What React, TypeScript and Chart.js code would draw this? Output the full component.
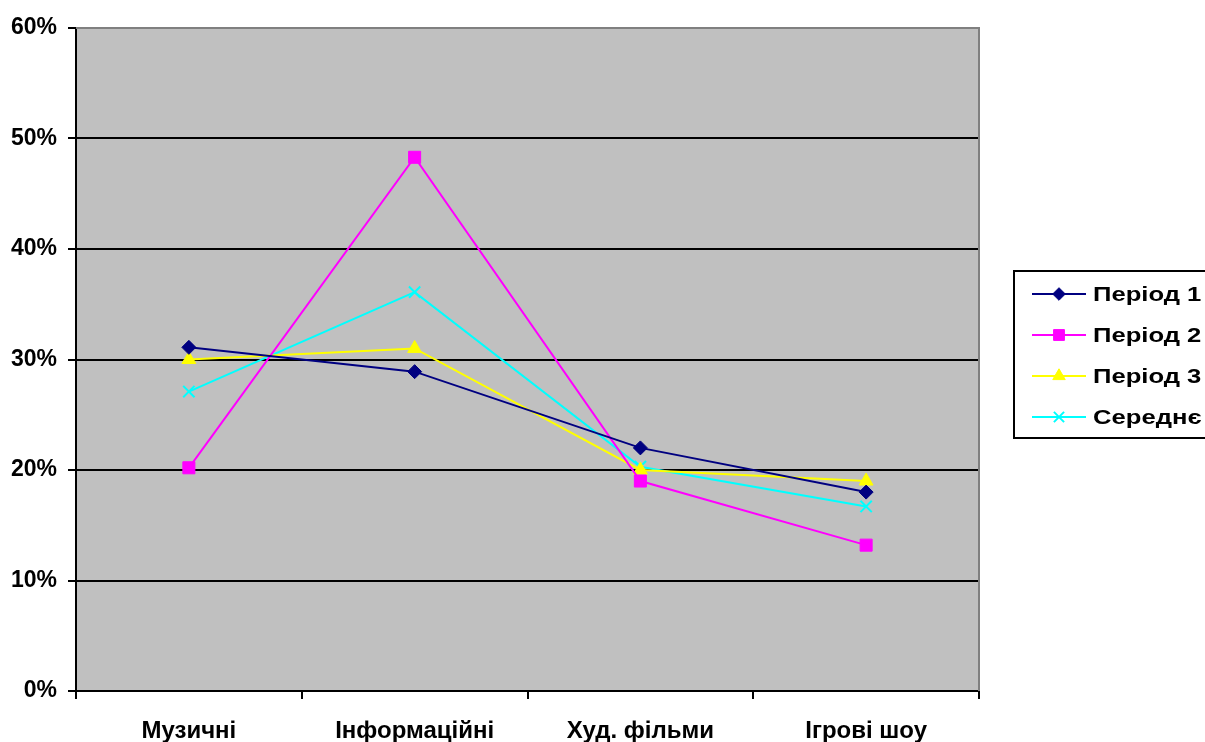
import React, { useEffect, useRef } from 'react';
import { Chart, registerables } from 'chart.js';

Chart.register(...registerables);

// Share of viewers by programme genre, per period
const categories = ['Музичні', 'Інформаційні', 'Худ. фільми', 'Ігрові шоу'];
const period1 = [31.1, 28.9, 22.0, 18.0];
const period2 = [20.2, 48.3, 19.0, 13.2];
const period3 = [30.0, 31.0, 20.0, 19.0];
const average = [27.1, 36.1, 20.3, 16.7];
const seriesNames = ['Період 1', 'Період 2', 'Період 3', 'Середнє'];
const yMin = 0;
const yMax = 60;
const yStep = 10;

const FONT = "'Liberation Sans', Arial, Helvetica, sans-serif";

type SeriesStyle = { color: string; point: string; radius: number; border: number };
const styles: SeriesStyle[] = [
  { color: '#000080', point: 'rectRot', radius: 7, border: 1 },
  { color: '#FF00FF', point: 'rect', radius: 8.5, border: 1 },
  { color: '#FFFF00', point: 'triangle', radius: 8, border: 1 },
  { color: '#00FFFF', point: 'crossRot', radius: 8, border: 2 },
];

function drawMarker(ctx: CanvasRenderingContext2D, s: SeriesStyle, x: number, y: number) {
  const r = s.radius;
  ctx.save();
  ctx.fillStyle = s.color;
  ctx.strokeStyle = s.color;
  ctx.lineWidth = s.border;
  ctx.beginPath();
  if (s.point === 'rectRot') {
    ctx.moveTo(x - r, y);
    ctx.lineTo(x, y - r);
    ctx.lineTo(x + r, y);
    ctx.lineTo(x, y + r);
    ctx.closePath();
    ctx.fill();
    ctx.stroke();
  } else if (s.point === 'rect') {
    const h = Math.SQRT1_2 * r;
    ctx.rect(x - h, y - h, 2 * h, 2 * h);
    ctx.fill();
    ctx.stroke();
  } else if (s.point === 'triangle') {
    ctx.moveTo(x, y - r);
    ctx.lineTo(x + 0.866 * r, y + 0.5 * r);
    ctx.lineTo(x - 0.866 * r, y + 0.5 * r);
    ctx.closePath();
    ctx.fill();
    ctx.stroke();
  } else {
    const o = Math.SQRT1_2 * r;
    ctx.moveTo(x - o, y - o);
    ctx.lineTo(x + o, y + o);
    ctx.moveTo(x + o, y - o);
    ctx.lineTo(x - o, y + o);
    ctx.stroke();
  }
  ctx.restore();
}

// Grey plot background with a grey frame on the top and right sides
const plotFrame = {
  id: 'plotFrame',
  beforeDraw(chart: Chart) {
    const { ctx, chartArea: a } = chart;
    ctx.save();
    ctx.fillStyle = '#C0C0C0';
    ctx.fillRect(a.left, a.top, a.right - a.left, a.bottom - a.top);
    ctx.restore();
  },
  beforeDatasetsDraw(chart: Chart) {
    const { ctx, chartArea: a } = chart;
    ctx.save();
    ctx.strokeStyle = '#808080';
    ctx.lineWidth = 2;
    ctx.beginPath();
    ctx.moveTo(a.left, a.top);
    ctx.lineTo(a.right, a.top);
    ctx.lineTo(a.right, a.bottom);
    ctx.stroke();
    ctx.restore();
  },
};

// Boxed legend to the right of the plot: line sample with marker, then name
const sideLegend = {
  id: 'sideLegend',
  afterDraw(chart: Chart) {
    const { ctx } = chart;
    const boxX = 1014;
    const boxY = 271;
    const rowY0 = 294;
    const rowGap = 41;
    ctx.save();
    ctx.fillStyle = '#FFFFFF';
    ctx.fillRect(boxX, boxY, 260, 167);
    ctx.strokeStyle = '#000000';
    ctx.lineWidth = 2;
    ctx.strokeRect(boxX, boxY, 260, 167);
    chart.data.datasets.forEach((ds, i) => {
      const s = styles[i];
      const y = rowY0 + i * rowGap;
      ctx.strokeStyle = s.color;
      ctx.lineWidth = 2;
      ctx.beginPath();
      ctx.moveTo(1032, y);
      ctx.lineTo(1086, y);
      ctx.stroke();
      drawMarker(ctx, { ...s, radius: s.radius * 0.9 }, 1059, y);
      ctx.save();
      ctx.translate(1093, y + 7);
      ctx.scale(1.22, 1);
      ctx.fillStyle = '#000000';
      ctx.font = `bold 21px ${FONT}`;
      ctx.textAlign = 'left';
      ctx.textBaseline = 'alphabetic';
      ctx.fillText(String(ds.label), 0, 0);
      ctx.restore();
    });
    ctx.restore();
  },
};

export default function App() {
  const canvasRef = useRef<HTMLCanvasElement | null>(null);

  useEffect(() => {
    const canvas = canvasRef.current;
    if (!canvas) return;
    const seriesData = [period1, period2, period3, average];
    const chart = new Chart(canvas, {
      type: 'line',
      data: {
        labels: categories,
        datasets: seriesData.map((values, i) => ({
          label: seriesNames[i],
          data: values,
          borderColor: styles[i].color,
          backgroundColor: styles[i].color,
          borderWidth: 2,
          pointStyle: styles[i].point as any,
          pointRadius: styles[i].radius,
          pointBorderWidth: styles[i].border,
          pointBackgroundColor: styles[i].color,
          pointBorderColor: styles[i].color,
          tension: 0,
          fill: false,
        })),
      },
      options: {
        responsive: false,
        animation: false,
        layout: { padding: { top: 28, right: 226, bottom: 0, left: 0 } },
        plugins: {
          legend: { display: false },
          tooltip: { enabled: false },
        },
        scales: {
          x: {
            type: 'category',
            offset: true,
            border: { display: true, color: '#000000', width: 2 },
            grid: {
              display: true,
              offset: true,
              drawOnChartArea: false,
              drawTicks: true,
              tickLength: 8,
              color: '#000000',
              lineWidth: 2,
            },
            ticks: {
              color: '#000000',
              font: { family: FONT, size: 24, weight: 'bold' },
              padding: 18,
              maxRotation: 0,
              autoSkip: false,
            },
            afterFit(scale: any) {
              scale.height = 51;
            },
          },
          y: {
            min: yMin,
            max: yMax,
            border: { display: true, color: '#000000', width: 2 },
            grid: {
              color: (c: any) => (c.tick && c.tick.value === yMax ? '#808080' : '#000000'),
              lineWidth: 2,
              drawTicks: true,
              tickLength: 8,
              tickColor: '#000000',
              tickWidth: 2,
            },
            ticks: {
              stepSize: yStep,
              color: '#000000',
              font: { family: FONT, size: 23, weight: 'bold' },
              padding: 11,
              callback: (v: any) => `${v}%`,
            },
            afterFit(scale: any) {
              scale.width = 76;
            },
          },
        },
      },
      plugins: [plotFrame, sideLegend],
    });
    return () => chart.destroy();
  }, []);

  return (
    <div style={{ position: 'absolute', left: 0, top: 0, width: 1205, height: 742, background: '#FFFFFF' }}>
      <canvas ref={canvasRef} width={1205} height={742} style={{ display: 'block' }} />
    </div>
  );
}
